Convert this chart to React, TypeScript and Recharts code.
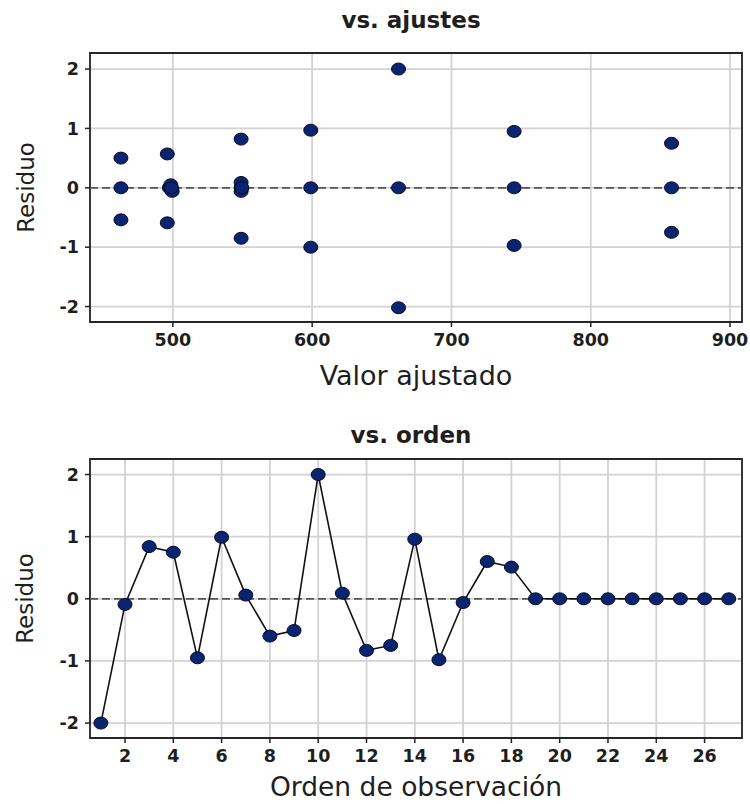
import React from 'react';
import {
  ScatterChart,
  Scatter,
  LineChart,
  Line,
  XAxis,
  YAxis,
  CartesianGrid,
  ReferenceLine,
  ReferenceArea,
} from 'recharts';

// ---- Data: residuals vs fitted values ----
const fittedValues = [
  462.7, 462.7, 462.7,
  496, 496, 497.5, 498.5, 499.5, 499,
  549, 549, 549, 549, 549.5, 549,
  599, 599, 599,
  662, 662, 662,
  745, 745, 745,
  858, 858, 858,
];
const fittedResiduals = [
  0.5, 0, -0.54,
  0.57, -0.59, 0, 0.05, -0.06, 0,
  0.82, 0.09, -0.06, 0, 0, -0.85,
  0.97, 0, -1.0,
  2.0, 0, -2.02,
  0.95, 0, -0.97,
  0.75, 0, -0.75,
];

// ---- Data: residuals vs observation order ----
const observationOrder = [
  1, 2, 3, 4, 5, 6, 7, 8, 9, 10, 11, 12, 13, 14, 15, 16, 17, 18, 19, 20, 21, 22, 23, 24, 25, 26, 27,
];
const orderResiduals = [
  -2.0, -0.09, 0.84, 0.75, -0.95, 0.99, 0.06, -0.6, -0.51, 2.0, 0.09, -0.83, -0.75, 0.96, -0.98,
  -0.06, 0.6, 0.51, 0, 0, 0, 0, 0, 0, 0, 0, 0,
];

const fittedTicks = [500, 600, 700, 800, 900];
const residTicks = [-2, -1, 0, 1, 2];
const orderTicks = [2, 4, 6, 8, 10, 12, 14, 16, 18, 20, 22, 24, 26];

const titleTop = 'vs. ajustes';
const titleBottom = 'vs. orden';
const xLabelTop = 'Valor ajustado';
const xLabelBottom = 'Orden de observación';
const yLabel = 'Residuo';

const fittedData = fittedValues.map((x, i) => ({ x, y: fittedResiduals[i] }));
const orderData = observationOrder.map((x, i) => ({ x, y: orderResiduals[i] }));

const FONT = '"DejaVu Sans", Verdana, sans-serif';
const TEXT = '#1e1e1e';
const MARK_FILL = '#0b2470';
const MARK_STROKE = '#050b2a';
const GRID = '#d2d2d2';

const tickStyle = { fontFamily: FONT, fontSize: 17.5, fontWeight: 'bold' as const, fill: TEXT };
const labelStyle = { fontFamily: FONT, fontSize: 27, fill: TEXT };

const Marker = (p: any) =>
  p.cx == null ? null : (
    <ellipse cx={p.cx} cy={p.cy} rx={7} ry={6} fill={MARK_FILL} stroke={MARK_STROKE} strokeWidth={1} />
  );

const topX: [number, number] = [440.5, 908.6];
const topY: [number, number] = [-2.26, 2.27];
const botX: [number, number] = [0.55, 27.55];
const botY: [number, number] = [-2.24, 2.25];

export default function App() {
  return (
    <div style={{ position: 'fixed', left: 0, top: 0, width: 750, height: 804, background: '#fff', overflow: 'hidden' }}>
      <div style={{ position: 'absolute', left: 0, top: 0 }}>
        <ScatterChart width={750} height={400} margin={{ top: 53, right: 8, bottom: 0, left: 0 }}>
          <CartesianGrid stroke={GRID} strokeWidth={1.8} />
          <XAxis
            type="number"
            dataKey="x"
            domain={topX}
            ticks={fittedTicks}
            allowDataOverflow
            height={78}
            axisLine={false}
            tickLine={{ stroke: '#222', strokeWidth: 1.5 }}
            tickSize={5}
            tickMargin={7}
            tick={tickStyle}
            label={{ value: xLabelTop, position: 'insideBottom', offset: 15, style: labelStyle }}
          />
          <YAxis
            type="number"
            dataKey="y"
            domain={topY}
            ticks={residTicks}
            allowDataOverflow
            width={90}
            axisLine={false}
            tickLine={{ stroke: '#222', strokeWidth: 1.5 }}
            tickSize={5}
            tickMargin={6}
            tick={tickStyle}
            label={{
              value: yLabel,
              angle: -90,
              position: 'insideLeft',
              offset: 26,
              style: { ...labelStyle, fontSize: 23, textAnchor: 'middle' },
            }}
          />
          <ReferenceArea
            x1={topX[0]}
            x2={topX[1]}
            y1={topY[0]}
            y2={topY[1]}
            fill="none"
            stroke="#262626"
            strokeWidth={1.8}
            ifOverflow="visible"
          />
          <ReferenceLine y={0} stroke="#555" strokeWidth={1.8} strokeDasharray="8 4" />
          <Scatter data={fittedData} shape={Marker} isAnimationActive={false} />
        </ScatterChart>
      </div>
      <div style={{ position: 'absolute', left: 0, top: 400 }}>
        <LineChart width={750} height={404} data={orderData} margin={{ top: 59, right: 8, bottom: 0, left: 0 }}>
          <CartesianGrid stroke={GRID} strokeWidth={1.8} />
          <XAxis
            type="number"
            dataKey="x"
            domain={botX}
            ticks={orderTicks}
            allowDataOverflow
            height={66}
            axisLine={false}
            tickLine={{ stroke: '#222', strokeWidth: 1.5 }}
            tickSize={5}
            tickMargin={7}
            tick={tickStyle}
            label={{ value: xLabelBottom, position: 'insideBottom', offset: 8, style: { ...labelStyle, fontSize: 26.5 } }}
          />
          <YAxis
            type="number"
            domain={botY}
            ticks={residTicks}
            allowDataOverflow
            width={90}
            axisLine={false}
            tickLine={{ stroke: '#222', strokeWidth: 1.5 }}
            tickSize={5}
            tickMargin={6}
            tick={tickStyle}
            label={{
              value: yLabel,
              angle: -90,
              position: 'insideLeft',
              offset: 25,
              style: { ...labelStyle, fontSize: 23, textAnchor: 'middle' },
            }}
          />
          <ReferenceArea
            x1={botX[0]}
            x2={botX[1]}
            y1={botY[0]}
            y2={botY[1]}
            fill="none"
            stroke="#262626"
            strokeWidth={1.8}
            ifOverflow="visible"
          />
          <ReferenceLine y={0} stroke="#555" strokeWidth={1.8} strokeDasharray="8 4" />
          <Line
            type="linear"
            dataKey="y"
            stroke="#111"
            strokeWidth={1.6}
            isAnimationActive={false}
            dot={(p: any) => (
              <ellipse
                key={`dot-${p.index}`}
                cx={p.cx}
                cy={p.cy}
                rx={7}
                ry={6}
                fill={MARK_FILL}
                stroke={MARK_STROKE}
                strokeWidth={1}
              />
            )}
            activeDot={false}
          />
        </LineChart>
      </div>
      <svg
        width={750}
        height={804}
        style={{ position: 'absolute', left: 0, top: 0, pointerEvents: 'none' }}
      >
        <text x={411} y={28} textAnchor="middle" fontFamily={FONT} fontWeight="bold" fontSize={23} fill={TEXT}>
          {titleTop}
        </text>
        <text x={411} y={443} textAnchor="middle" fontFamily={FONT} fontWeight="bold" fontSize={23} fill={TEXT}>
          {titleBottom}
        </text>
      </svg>
    </div>
  );
}
